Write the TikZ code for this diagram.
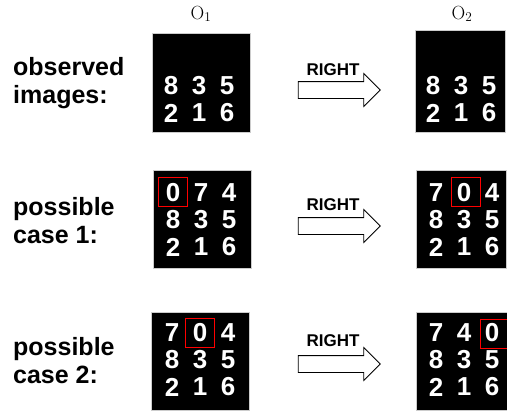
\documentclass[tikz,border=0pt]{standalone}
\usepackage{fontspec}
\usepackage{amsmath}
\usetikzlibrary{positioning,shapes.arrows}
\newfontfamily\labelfont{Liberation Sans}

\begin{document}
\begin{tikzpicture}[x=1pt,y=-1pt]
        \tikzstyle{img}=[fill=black, draw=black!20, line width=0.6pt, inner sep=0pt]
        \tikzstyle{digit}=[text=white, font=\labelfont\bfseries\fontsize{26}{26}\selectfont, inner sep=0pt]
        \tikzstyle{coltitle}=[anchor=base, font=\rmfamily\fontsize{19}{19}\selectfont, inner sep=0pt]
        \tikzstyle{rowlabel}=[font=\labelfont\bfseries\fontsize{25}{28}\selectfont, align=left, anchor=base west, inner sep=0pt]
        \tikzstyle{action}=[font=\labelfont\bfseries\fontsize{17}{17}\selectfont, anchor=base, inner sep=0pt]
        \tikzstyle{move}=[single arrow, draw, fill=white, line width=0.8pt, minimum height=82pt,
                          inner xsep=0pt, inner ysep=8pt, single arrow head extend=8pt]
        \tikzstyle{hl}=[draw=red, line width=1.5pt, minimum size=29pt, inner sep=0pt]

        \useasboundingbox (0,0) rectangle (507,413);

        % column titles
        \node (o1) [coltitle] at (201,19) {O\textsubscript{1}};
        \node (o2) [coltitle] at (462,19) {O\textsubscript{2}};

        % row titles (anchored at the last line)
        \node (l1) [rowlabel] at (13,103) {observed\\images:};
        \node (l2) [rowlabel] at (13,243) {possible\\case 1:};
        \node (l3) [rowlabel] at (13,383) {possible\\case 2:};

        % image frames
        \node (a1) [img, minimum width=98pt, minimum height=99pt]  at (201,82.5) {};
        \node (b1) [img, minimum width=90pt, minimum height=102pt] at (460,81) {};
        \node (a2) [img, minimum width=98pt, minimum height=98pt]  at (202,219) {};
        \node (b2) [img, minimum width=90pt, minimum height=98pt]  at (461,219) {};
        \node (a3) [img, minimum width=98pt, minimum height=98pt]  at (200,361) {};
        \node (b3) [img, minimum width=91pt, minimum height=98pt]  at (461.5,361) {};

        % digits, row by row in a 3x3 grid
        \foreach \g/\cx/\cy/\s/\ds in {a1/199/86/3/{8,3,5,2,1,6},
                                      b1/461/86/3/{8,3,5,2,1,6},
                                      a2/201/220/0/{0,7,4,8,3,5,2,1,6},
                                      b2/464/220/0/{7,0,4,8,3,5,2,1,6},
                                      a3/200/360/0/{7,0,4,8,3,5,2,1,6},
                                      b3/464/360/0/{7,4,0,8,3,5,2,1,6}}
            \foreach \d [count=\i from \s] in \ds {
                \pgfmathtruncatemacro\c{mod(\i,3)}
                \pgfmathtruncatemacro\r{\i/3}
                \node (\g-\i) [digit] at (\cx+28*\c-28, \cy+27*\r-27) {\d};
            }

        % the moved digit
        \node (h2a) [hl, yshift=1pt] at (a2-0) {};
        \node (h2b) [hl, yshift=1pt, xshift=2pt] at (b2-1) {};
        \node (h3a) [hl] at (a3-1) {};
        \node (h3b) [hl, yshift=-1pt, xshift=3pt] at (b3-2) {};

        % actions
        \node (t1) [action] at (333,75)  {RIGHT};
        \node (t2) [action] at (333,210) {RIGHT};
        \node (t3) [action] at (333,346) {RIGHT};
        \node (m1) [move] at (335,90)  {};
        \node (m2) [move] at (335,226) {};
        \node (m3) [move] at (335,364) {};
\end{tikzpicture}
\end{document}
